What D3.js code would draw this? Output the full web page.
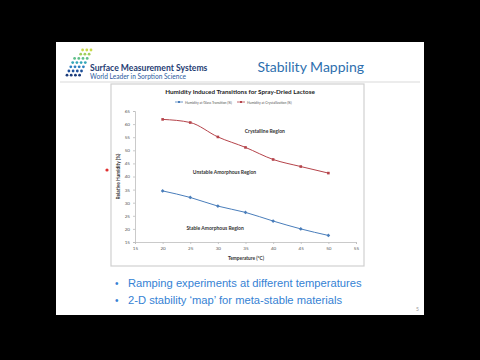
<!DOCTYPE html>
<html>
<head>
<meta charset="utf-8">
<script src="https://cdn.jsdelivr.net/npm/d3@7"></script>
<style>
  html, body { margin: 0; padding: 0; background: #000; }
  svg { display: block; }
</style>
</head>
<body>
<div id="main-chart"></div>
<script>
const temps = [20, 25, 30, 35, 40, 45, 50];
const glassRH = [34.5, 32, 28.7, 26.3, 23, 20, 17.5];
const crystalRH = [61.8, 60.6, 55.1, 51.1, 46.5, 43.8, 41.3];
const xTicks = [15, 20, 25, 30, 35, 40, 45, 50, 55];
const yTicks = [15, 20, 25, 30, 35, 40, 45, 50, 55, 60, 65];
const seriesNames = ["Humidity at Glass Transition (%)", "Humidity at Crystallization (%)"];
const regionLabels = [
  { name: "Crystalline Region", t: 38.5, rh: 56.7 },
  { name: "Unstable Amorphous Region", t: 31.2, rh: 41 },
  { name: "Stable Amorphous Region", t: 29.5, rh: 19.5 },
];
const bullets = [
  "Ramping experiments at different temperatures",
  "2-D stability \u2018map\u2019 for meta-stable materials",
];

const width = 480;
const height = 360;
const blue = "#4a7ebb";
const red = "#b5434a";

const svg = d3
  .select("#main-chart")
  .append("svg")
  .attr("width", width)
  .attr("height", height);

svg.append("rect").attr("width", width).attr("height", height).attr("fill", "#000");

// slide
svg.append("rect")
  .attr("x", 56).attr("y", 42).attr("width", 368).attr("height", 273)
  .attr("fill", "#fff");

// header separator
svg.append("line")
  .attr("x1", 60).attr("x2", 420).attr("y1", 82).attr("y2", 82)
  .attr("stroke", "#d9d9d9").attr("stroke-width", 1);

// logo dots
const logoDots = [];
const logoColors = ["#c8d84a", "#9fcf5a", "#5fbf8a", "#33a6b8", "#2a7fc0", "#1d4f9a", "#1a3b7a"];
for (let r = 0; r < 7; r++) {
  for (let c = 0; c < 4; c++) {
    if (r < 2 && c === 0) continue;
    logoDots.push({ r, c });
  }
}
svg.append("g")
  .selectAll("circle")
  .data(logoDots)
  .join("circle")
  .attr("cx", (d) => 67 + d.c * 4.2 + (6 - d.r) * 1.9)
  .attr("cy", (d) => 50 + d.r * 4.2)
  .attr("r", 1.4)
  .attr("fill", (d) => logoColors[d.r]);

svg.append("text")
  .attr("x", 90).attr("y", 71)
  .attr("font-family", "Lato, sans-serif").attr("font-size", 8.6)
  .attr("font-weight", "bold").attr("fill", "#1f3d73")
  .text("Surface Measurement Systems");
svg.append("text")
  .attr("x", 90).attr("y", 79)
  .attr("font-family", "Lato, sans-serif").attr("font-size", 6.6)
  .attr("fill", "#2a5aa0")
  .text("World Leader in Sorption Science");

svg.append("text")
  .attr("x", 364).attr("y", 72).attr("text-anchor", "end")
  .attr("font-family", "Lato, sans-serif").attr("font-size", 14)
  .attr("fill", "#2e6fae")
  .text("Stability Mapping");

// red bullet on the slide
svg.append("circle").attr("cx", 107).attr("cy", 170).attr("r", 1.6).attr("fill", "#e03030");

// chart box
svg.append("rect")
  .attr("x", 111).attr("y", 84).attr("width", 253).attr("height", 182)
  .attr("fill", "#fff").attr("stroke", "#d0d0d0").attr("stroke-width", 1.2);

const x = d3.scaleLinear().domain([15, 55]).range([135, 356]);
const y = d3.scaleLinear().domain([15, 65]).range([242, 111]);

const chart = svg.append("g").attr("font-family", "Lato, sans-serif");

chart.append("text")
  .attr("x", 240).attr("y", 94).attr("text-anchor", "middle")
  .attr("font-size", 6.3).attr("font-weight", "bold").attr("fill", "#222")
  .text("Humidity Induced Transitions for Spray-Dried Lactose");

// legend
const legendX = [175, 237];
seriesNames.forEach((name, i) => {
  const g = chart.append("g").attr("transform", `translate(${legendX[i]}, 102)`);
  g.append("line").attr("x1", 0).attr("x2", 8).attr("stroke", i ? red : blue).attr("stroke-width", 0.8);
  g.append("rect").attr("x", 3).attr("y", -1).attr("width", 2).attr("height", 2).attr("fill", i ? red : blue);
  g.append("text").attr("x", 10).attr("y", 1.5).attr("font-size", 3.4).attr("fill", "#555").text(name);
});

// axes
const xAxis = chart.append("g")
  .attr("transform", `translate(0, ${y(15)})`)
  .call(d3.axisBottom(x).tickValues(xTicks).tickSize(2).tickPadding(3));
const yAxis = chart.append("g")
  .attr("transform", `translate(${x(15)}, 0)`)
  .call(d3.axisLeft(y).tickValues(yTicks).tickSize(2).tickPadding(3));
[xAxis, yAxis].forEach((a) => {
  a.selectAll("path, line").attr("stroke", "#bdbdbd").attr("stroke-width", 0.8);
  a.selectAll("text").attr("font-family", "Lato, sans-serif").attr("font-size", 4.6).attr("fill", "#555");
});

chart.append("text")
  .attr("x", 246).attr("y", 260).attr("text-anchor", "middle")
  .attr("font-size", 4.8).attr("font-weight", "bold").attr("fill", "#333")
  .text("Temperature (\u00b0C)");
chart.append("text")
  .attr("transform", `translate(120, ${y(40)}) rotate(-90)`)
  .attr("text-anchor", "middle")
  .attr("font-size", 4.8).attr("font-weight", "bold").attr("fill", "#333")
  .text("Relative Humidity (%)");

// series
const line = d3.line()
  .x((d) => x(d.t))
  .y((d) => y(d.v))
  .curve(d3.curveMonotoneX);

[glassRH, crystalRH].forEach((vals, i) => {
  const data = temps.map((t, k) => ({ t, v: vals[k] }));
  const color = i ? red : blue;
  chart.append("path")
    .datum(data)
    .attr("d", line)
    .attr("fill", "none")
    .attr("stroke", color)
    .attr("stroke-width", 1);
  chart.append("g")
    .selectAll("rect")
    .data(data)
    .join("rect")
    .attr("x", (d) => x(d.t) - 1.3)
    .attr("y", (d) => y(d.v) - 1.3)
    .attr("width", 2.6)
    .attr("height", 2.6)
    .attr("fill", color)
    .attr("transform", (d) => (i ? null : `rotate(45, ${x(d.t)}, ${y(d.v)})`));
});

chart.append("g")
  .selectAll("text")
  .data(regionLabels)
  .join("text")
  .attr("x", (d) => x(d.t))
  .attr("y", (d) => y(d.rh))
  .attr("text-anchor", "middle")
  .attr("font-size", 5)
  .attr("font-weight", "bold")
  .attr("fill", "#333")
  .text((d) => d.name);

// bullets
const bl = svg.append("g").attr("font-family", "'Liberation Sans', Arial, sans-serif");
bl.selectAll("text.b")
  .data(bullets)
  .join("text")
  .attr("class", "b")
  .attr("x", 128)
  .attr("y", (d, i) => 287 + i * 17)
  .attr("font-size", 11.2)
  .attr("fill", "#3582d4")
  .text((d) => d);
bl.selectAll("text.dot")
  .data(bullets)
  .join("text")
  .attr("class", "dot")
  .attr("x", 115)
  .attr("y", (d, i) => 287 + i * 17)
  .attr("font-size", 10)
  .attr("fill", "#3582d4")
  .text("\u2022");

svg.append("text")
  .attr("x", 419).attr("y", 311).attr("text-anchor", "end")
  .attr("font-family", "Lato, sans-serif").attr("font-size", 5).attr("fill", "#999")
  .text("5");
</script>
</body>
</html>
